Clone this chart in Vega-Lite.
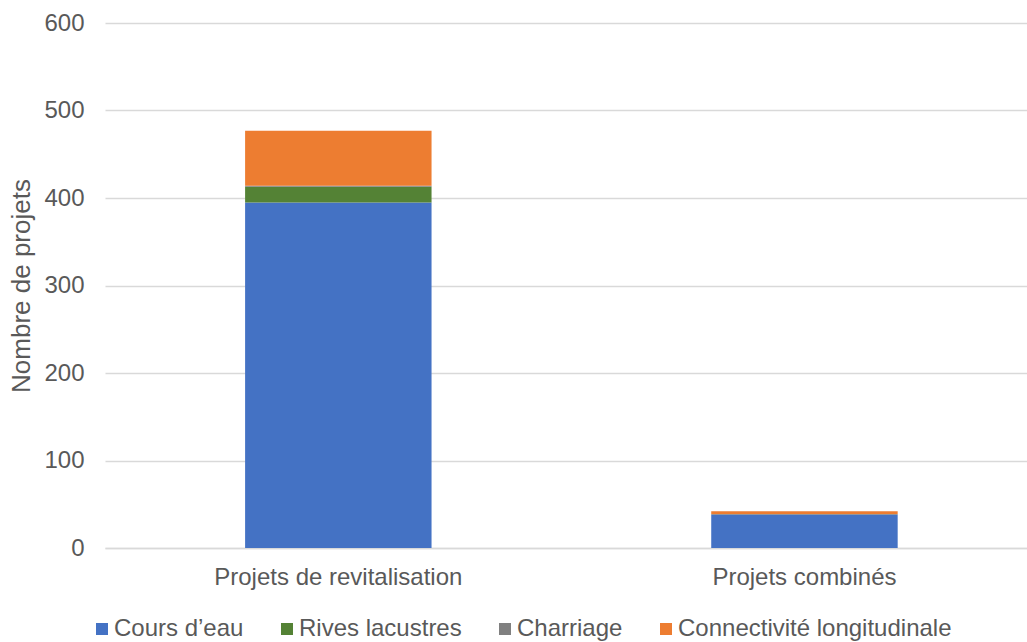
{
  "$schema": "https://vega.github.io/schema/vega-lite/v6.json",
  "autosize": "none",
  "width": 922,
  "height": 525,
  "padding": {"left": 105, "top": 23, "right": 0, "bottom": 94},
  "background": "white",
  "config": {
    "font": "Liberation Sans",
    "view": {"stroke": null},
    "axis": {
      "labelFont": "Liberation Sans",
      "labelFontSize": 24,
      "labelColor": "#595959",
      "labelLimit": 0,
      "titleFont": "Liberation Sans",
      "titleFontSize": 26,
      "titleFontWeight": "normal",
      "titleColor": "#595959"
    },
    "legend": {
      "labelFont": "Liberation Sans",
      "labelFontSize": 24,
      "labelColor": "#595959",
      "labelLimit": 0
    }
  },
  "data": {
    "values": [
      {"projet": "Projets de revitalisation", "type": "Cours d’eau", "ordre": 1, "nombre": 395},
      {"projet": "Projets de revitalisation", "type": "Rives lacustres", "ordre": 2, "nombre": 18},
      {"projet": "Projets de revitalisation", "type": "Charriage", "ordre": 3, "nombre": 1},
      {"projet": "Projets de revitalisation", "type": "Connectivité longitudinale", "ordre": 4, "nombre": 63},
      {"projet": "Projets combinés", "type": "Cours d’eau", "ordre": 1, "nombre": 38},
      {"projet": "Projets combinés", "type": "Rives lacustres", "ordre": 2, "nombre": 0},
      {"projet": "Projets combinés", "type": "Charriage", "ordre": 3, "nombre": 1},
      {"projet": "Projets combinés", "type": "Connectivité longitudinale", "ordre": 4, "nombre": 3}
    ]
  },
  "mark": {"type": "bar"},
  "encoding": {
    "x": {
      "field": "projet",
      "type": "nominal",
      "sort": ["Projets de revitalisation", "Projets combinés"],
      "scale": {"paddingInner": 0.6, "paddingOuter": 0.289, "align": 0.52},
      "axis": {
        "title": null,
        "labelAngle": 0,
        "ticks": false,
        "domainColor": "#D9D9D9",
        "domainWidth": 1.5,
        "labelPadding": 17
      }
    },
    "y": {
      "field": "nombre",
      "type": "quantitative",
      "aggregate": "sum",
      "stack": "zero",
      "scale": {"domain": [0, 600], "nice": false},
      "axis": {
        "title": "Nombre de projets",
        "values": [0, 100, 200, 300, 400, 500, 600],
        "domain": false,
        "ticks": false,
        "gridColor": "#D9D9D9",
        "gridWidth": 1.5,
        "labelPadding": 21,
        "titlePadding": 9
      }
    },
    "color": {
      "field": "type",
      "type": "nominal",
      "sort": ["Cours d’eau", "Rives lacustres", "Charriage", "Connectivité longitudinale"],
      "scale": {
        "domain": ["Cours d’eau", "Rives lacustres", "Charriage", "Connectivité longitudinale"],
        "range": ["#4472C4", "#548235", "#808080", "#ED7D31"]
      },
      "legend": {
        "title": null,
        "orient": "none",
        "direction": "horizontal",
        "legendX": -15,
        "legendY": 594,
        "symbolType": "square",
        "symbolSize": 144,
        "symbolStrokeWidth": 0,
        "labelOffset": 0,
        "columnPadding": 31,
        "padding": 0
      }
    },
    "order": {"field": "ordre", "type": "quantitative", "aggregate": "min"}
  }
}
